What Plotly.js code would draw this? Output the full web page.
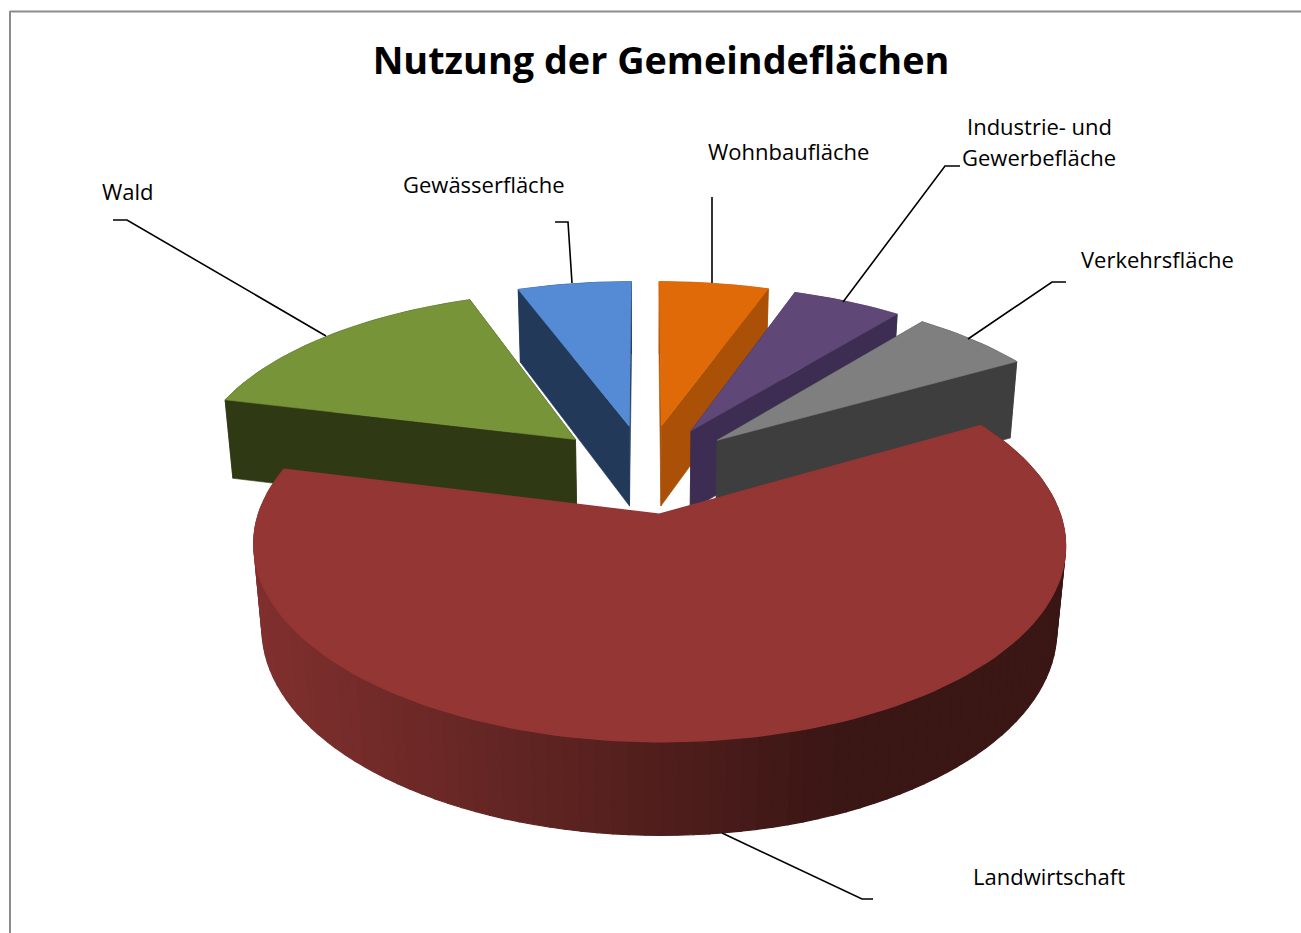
<!DOCTYPE html>
<html><head><meta charset="utf-8">
<script src="https://cdn.plot.ly/plotly-3.0.1.min.js"></script>
<style>html,body{margin:0;padding:0;background:#fff}#c{width:1301px;height:933px}</style>
</head><body><div id="c"></div>
<script>
// --- data (percent of the municipal area, clockwise from 12 o'clock) ---
const categories = ['Wohnbaufläche','Industrie- und<br>Gewerbefläche','Verkehrsfläche','Landwirtschaft','Wald','Gewässerfläche'];
const shares = [5.4, 5.4, 5.9, 62.2, 15.5, 5.6];
const chartTitle = 'Nutzung der Gemeindeflächen';

// --- styles ---
const topColors  = ['#e06a08','#5f4777','#7f7f7f','#943634','#779438','#548bd4'];
const sideColors = ['#aa5107','#3e2d52','#3e3e3e',null,'#2f3a15','#22395a'];
const drawOrder = [5,4,0,1,2,3];

// --- projection of the tilted pie onto the page ---
const P = {cx:645.5, cy:468.5, A:386, B:178, k:0.15, explode:0.25, depth:83.5, dw:0.02};
function proj(u,v,low){
  const w = 1 + P.k*v + (low?P.dw:0);
  return [P.cx + P.A*u/w, P.cy - (P.B*v - (low?P.depth:0))/w];
}
const rad = d => d*Math.PI/180;
const total = shares.reduce((a,b)=>a+b,0);
let acc = 0;
const slices = shares.map(s=>{const a0=acc/total*360; acc+=s; return {a0,a1:acc/total*360};});

function ringPts(sl,low,from,to){
  const mid = rad((sl.a0+sl.a1)/2), u0=P.explode*Math.sin(mid), v0=P.explode*Math.cos(mid);
  const n = Math.max(6,Math.ceil(Math.abs(to-from)/1.5)), pts=[];
  for(let i=0;i<=n;i++){const t=rad(from+(to-from)*i/n); pts.push(proj(u0+Math.sin(t),v0+Math.cos(t),low));}
  return pts;
}
function apex(sl,low){const mid=rad((sl.a0+sl.a1)/2); return proj(P.explode*Math.sin(mid),P.explode*Math.cos(mid),low);}
function poly(pts,color,name,lw){
  return {type:'scatter',mode:'lines',x:pts.map(p=>p[0]).concat(pts[0][0]),y:pts.map(p=>p[1]).concat(pts[0][1]),
    fill:'toself',fillcolor:color,line:{color:color,width:lw||0.6},hoverinfo:'skip',showlegend:false,name:name||''};
}
function lerp(c1,c2,f){return 'rgb('+c1.map((c,i)=>Math.round(c+(c2[i]-c)*f)).join(',')+')';}

const traces=[];
drawOrder.forEach(i=>{
  const sl=slices[i], name=categories[i];
  const topArc=ringPts(sl,false,sl.a0,sl.a1);
  if(sideColors[i]){
    const lowArc=ringPts(sl,true,sl.a0,sl.a1);
    traces.push(poly(topArc.concat(lowArc.slice().reverse()),sideColors[i],name));
    [[sl.a0,0],[sl.a1,topArc.length-1]].forEach(e=>{
      traces.push(poly([apex(sl,false),topArc[e[1]],lowArc[e[1]],apex(sl,true)],sideColors[i],name));
    });
    traces.push(poly([apex(sl,false)].concat(topArc),topColors[i],name));
  } else {
    // outer wall, shaded by page position from left (lighter) to right (darker)
    const step=2, from=sl.a1, to=sl.a0;
    for(let a=from;a>to;a-=step){
      const b=Math.max(a-step,to);
      const t=ringPts(sl,false,a,b), l=ringPts(sl,true,a,b);
      const f=Math.min(1,Math.max(0,(l[0][0]-262)/(830-262)));
      traces.push(poly(t.concat(l.slice().reverse()),lerp([128,48,46],[58,22,20],f),name,1.2));
    }
    traces.push(poly([apex(sl,false)].concat(topArc),topColors[i],name,1.6));
  }
});

// --- label placement and leader elbows (page layout) ---
const labelAt = [[788,151],[1039,141],[1157,259],[1049,876],[128,191],[484,184]];
const lineGap = 31;
const leaders = [
  [[712,283],[712,197]],
  [[843,302],[945,166],[960,166]],
  [[968,339],[1052,282],[1066,282]],
  [[722,833],[862,899],[873,899]],
  [[326,336],[127,220],[113,220]],
  [[572,283],[568,222],[555,222]]
];
leaders.forEach(L=>traces.push({type:'scatter',mode:'lines',x:L.map(p=>p[0]),y:L.map(p=>p[1]),
  line:{color:'#000',width:1.6},hoverinfo:'skip',showlegend:false}));

const annotations = categories.flatMap((c,i)=>{
  const lines=c.split('<br>');
  return lines.map((t,j)=>({xref:'x',yref:'y',x:labelAt[i][0],y:labelAt[i][1]+(j-(lines.length-1)/2)*lineGap,text:t,showarrow:false,
    font:{family:'Open Sans, sans-serif',size:22,color:'#000'},align:'center',xanchor:'center',yanchor:'middle'}));
});

const layout = {
  width:1301,height:933,margin:{l:0,r:0,t:0,b:0},paper_bgcolor:'#fff',plot_bgcolor:'#fff',showlegend:false,
  title:{text:'<b>'+chartTitle+'</b>',x:661/1301,xanchor:'center',y:1-60.8/933,yanchor:'middle',
    font:{family:'Open Sans, sans-serif',size:37.8,color:'#000'}},
  xaxis:{range:[0,1301],visible:false,fixedrange:true},
  yaxis:{range:[933,0],visible:false,fixedrange:true},
  annotations:annotations,
  shapes:[
    {type:'line',xref:'x',yref:'y',x0:10,x1:1301,y0:11.5,y1:11.5,line:{color:'#8c8c8c',width:2}},
    {type:'line',xref:'x',yref:'y',x0:10,x1:10,y0:11,y1:933,line:{color:'#8c8c8c',width:2}}
  ]
};
Plotly.newPlot('c',traces,layout,{displayModeBar:false,staticPlot:true});
</script></body></html>
